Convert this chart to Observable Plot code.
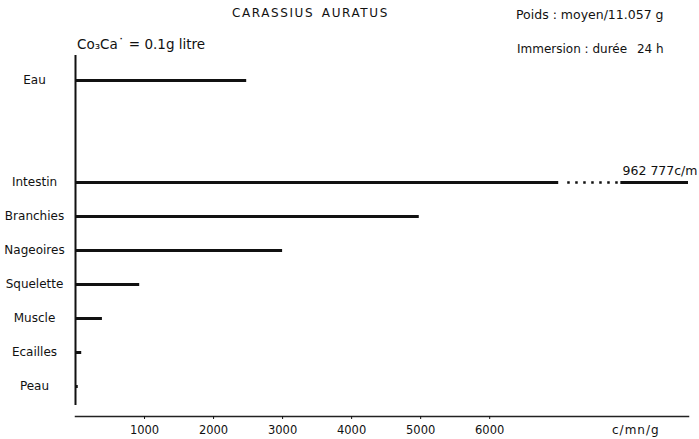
<!DOCTYPE html>
<html><head><meta charset="utf-8">
<script src="https://cdn.jsdelivr.net/npm/d3@7"></script>
<script src="https://cdn.jsdelivr.net/npm/@observablehq/plot@0.6"></script>
<style>
body{margin:0;background:#fff;}
#wrap{position:relative;width:699px;height:439px;font-family:"DejaVu Sans",sans-serif;color:#111;}
.note{position:absolute;white-space:nowrap;line-height:1;}
</style></head><body>
<div id="wrap"></div>
<script>
// ---- data ----
const organs = ["Eau","Intestin","Branchies","Nageoires","Squelette","Muscle","Ecailles","Peau"];
const values = [2480, 962777, 4980, 3000, 930, 390, 90, 40];
const gapSlots = ["\u2009", "\u200A"]; // empty rows between Eau and Intestin
const tickValues = [1000, 2000, 3000, 4000, 5000, 6000];
const axisMax = 8880;
const breakStart = 7000, breakEnd = 7900;
const unitLabel = "c/m";
const xUnit = "c/mn/g";
const title = "CARASSIUS\u2002AURATUS";
const poids = "Poids : moyen/11.057 g";
const immersion = "Immersion : durée\u2002 24 h";
const conc = "Co\u2083Ca\u02D9 = 0.1g litre";

const rows = organs.map((o, i) => ({organ: o, value: values[i]}));
const broken = rows.filter(d => d.value > axisMax);
const yDomain = [organs[0], ...gapSlots, ...organs.slice(1)];
const frFmt = d3.formatLocale({decimal: ",", thousands: " ", grouping: [3], currency: ["", ""]}).format(",");

const plot = Plot.plot({
  width: 699, height: 439,
  marginLeft: 75, marginRight: 11, marginTop: 55, marginBottom: 23,
  style: {fontFamily: "DejaVu Sans, sans-serif", fontSize: "11.5px", color: "#111", background: "white"},
  x: {domain: [0, axisMax]},
  y: {type: "point", domain: yDomain, range: [78, 387], padding: 0},
  marks: [
    Plot.frame({anchor: "bottom", stroke: "#222", strokeWidth: 1.5}),
    Plot.ruleX([0], {stroke: "#111", strokeWidth: 2, insetBottom: 11}),
    Plot.axisX({ticks: tickValues, tickSize: 3, tickPadding: 6, label: null, tickFormat: d => String(d)}),
    Plot.axisY({ticks: organs, tickSize: 0, tickPadding: 41, textAnchor: "middle", label: null, fontSize: 12}),
    Plot.ruleY(rows, {y: "organ", x1: 0, x2: d => Math.min(d.value, breakStart), stroke: "#111", strokeWidth: 3}),
    Plot.ruleY(broken, {y: "organ", x1: breakStart, x2: breakEnd, stroke: "#111", strokeWidth: 2.5, strokeDasharray: "2.5 5.5", insetLeft: 9}),
    Plot.ruleY(broken, {y: "organ", x1: breakEnd, x2: axisMax, stroke: "#111", strokeWidth: 3}),
    Plot.text(broken, {y: "organ", x: axisMax, text: d => frFmt(d.value) + unitLabel, textAnchor: "end", dx: 9, dy: -12, fontSize: 12.5})
  ]
});
const wrap = document.getElementById("wrap");
wrap.appendChild(plot);

function note(text, opts) {
  const el = document.createElement("div");
  el.className = "note";
  el.textContent = text;
  Object.assign(el.style, opts);
  wrap.appendChild(el);
}
note(title, {left: "232px", top: "7px", fontSize: "12px", letterSpacing: "1.6px"});
note(poids, {left: "516px", top: "9px", fontSize: "12.5px"});
note(immersion, {left: "517px", top: "43px", fontSize: "12px"});
note(conc, {left: "77px", top: "38px", fontSize: "13.5px"});
note(xUnit, {left: "612px", top: "424px", fontSize: "12px", letterSpacing: "1px"});
</script>
</body></html>
